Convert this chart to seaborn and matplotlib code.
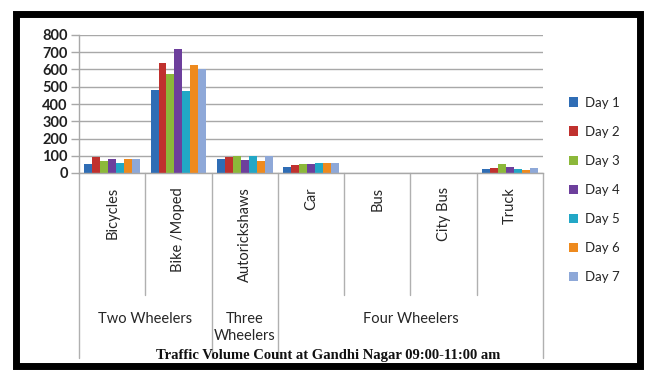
import matplotlib
matplotlib.use("Agg")
import matplotlib.pyplot as plt
import seaborn as sns
import pandas as pd
from matplotlib.patches import Rectangle

categories = ["Bicycles", "Bike /Moped", "Autorickshaws", "Car", "Bus", "City Bus", "Truck"]
days = ["Day 1", "Day 2", "Day 3", "Day 4", "Day 5", "Day 6", "Day 7"]
values = {
    "Day 1": [50, 480, 80, 35, 0, 0, 25],
    "Day 2": [90, 640, 95, 45, 0, 0, 30],
    "Day 3": [70, 575, 100, 55, 0, 0, 50],
    "Day 4": [80, 720, 75, 55, 0, 0, 35],
    "Day 5": [60, 475, 100, 60, 0, 0, 25],
    "Day 6": [80, 625, 70, 60, 0, 0, 20],
    "Day 7": [80, 605, 100, 60, 0, 0, 30],
}
groups = [("Two Wheelers", 0, 1), ("Three\nWheelers", 2, 2), ("Four Wheelers", 3, 6)]
yticks = [0, 100, 200, 300, 400, 500, 600, 700, 800]
title = "Traffic Volume Count at Gandhi Nagar 09:00-11:00 am"

colors = ["#2F6DB5", "#C0312E", "#8CB83A", "#6D3F9C", "#22A7C6", "#EE8A1E", "#8EA8D8"]

rows = []
for d in days:
    for c, v in zip(categories, values[d]):
        rows.append({"Category": c, "Day": d, "Count": v})
df = pd.DataFrame(rows)

sns.set_theme(style="white")
plt.rcParams["font.family"] = ["Lato", "DejaVu Sans"]

W, H = 648, 371
fig = plt.figure(figsize=(W / 100, H / 100), dpi=100)
fig.patch.set_facecolor("white")
ax = fig.add_axes([79 / W, 1 - 173 / H, (543 - 79) / W, (173 - 35) / H])

sns.barplot(data=df, x="Category", y="Count", hue="Day", order=categories,
            hue_order=days, palette=colors, width=0.84, gap=0, ax=ax,
            linewidth=0, saturation=1, legend=True)

ax.set_xlim(-0.5, len(categories) - 0.5)
ax.set_ylim(0, 800)
ax.set_yticks(yticks)
ax.set_yticklabels([str(t) for t in yticks], fontsize=10.5, color="#202020", fontweight="bold")
ax.yaxis.grid(True, color="#A8A8A8", linewidth=1)
ax.set_axisbelow(True)
ax.tick_params(axis="y", length=6, width=1, color="#A8A8A8", pad=2, left=True)
ax.tick_params(axis="x", length=0, pad=10)
ax.set_xticks(range(len(categories)))
ax.set_xticklabels(categories, rotation=90, fontsize=10.5, color="#262626", va="top")
ax.set_xlabel("")
ax.set_ylabel("")
for s in ["top", "right"]:
    ax.spines[s].set_visible(False)
for s in ["left", "bottom"]:
    ax.spines[s].set_color("#A8A8A8")
    ax.spines[s].set_linewidth(1)

# category boundary lines in the label area
tr = ax.get_xaxis_transform()
short_b = [0.5, 3.5, 4.5, 5.5]
long_b = [-0.5, 1.5, 2.5, 6.5]
for b in short_b:
    ax.plot([b, b], [0, -122 / 138], transform=tr, color="#B0B0B0", lw=1, clip_on=False)
for b in long_b:
    ax.plot([b, b], [0, -185 / 138], transform=tr, color="#B0B0B0", lw=1, clip_on=False)

# group labels
for name, i0, i1 in groups:
    xc = (i0 + i1) / 2
    ax.text(xc, -139 / 138, name, transform=tr, ha="center", va="top",
            fontsize=10.5, color="#262626", linespacing=1.25)

# legend
leg = ax.legend(loc="center left", bbox_to_anchor=(1.045, 1 - (190 - 35) / 138), frameon=False,
                fontsize=9.5, handlelength=0.7, handleheight=0.7, handletextpad=0.5,
                labelspacing=1.3, borderaxespad=0)
for t in leg.get_texts():
    t.set_color("#262626")

fig.text(328 / W, 1 - 355 / H, title, ha="center", va="center", fontsize=10.5,
         fontweight="bold", family=["Liberation Serif", "DejaVu Serif"], color="#111111")

# frame
fig.patches.append(Rectangle((16 / W, 1 - 366 / H), (639.5 - 16) / W, (366 - 13.5) / H,
                             transform=fig.transFigure, fill=False, edgecolor="black",
                             linewidth=5, zorder=10))

fig.savefig("out.png", dpi=100, facecolor="white")
